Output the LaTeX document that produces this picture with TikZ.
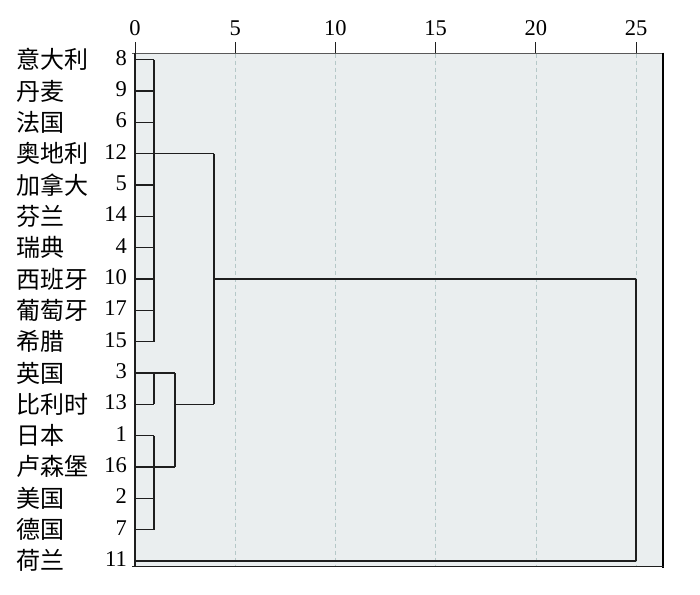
\documentclass[tikz,border=0pt]{standalone}
\usepackage{fontspec}
\setmainfont{Liberation Serif}
\newfontfamily\cjk{Noto Sans CJK SC}
\definecolor{plotbg}{HTML}{EAEEEF}
\definecolor{gridc}{HTML}{B5C8C8}
\definecolor{linec}{HTML}{1E1E1E}
\begin{document}
\begin{tikzpicture}[x=1pt,y=-1pt,
  lab/.style={anchor=base west,inner sep=0pt,font=\cjk\fontsize{24}{24}\selectfont},
  num/.style={anchor=base east,inner sep=0pt,font=\fontsize{22.5}{22.5}\selectfont},
  ticklab/.style={anchor=base,inner sep=0pt,font=\fontsize{22.5}{22.5}\selectfont},
  dend/.style={draw=linec,line width=1.1pt},
  gridl/.style={draw=gridc,line width=0.6pt,dash pattern=on 4pt off 3pt}]
\useasboundingbox (0,0) rectangle (700,594);
% plot area
\fill[plotbg] (135,53) rectangle (663,566.5);
\foreach \v in {1,...,5} \draw[gridl] ({135+100.2*\v},53.5) -- ({135+100.2*\v},566);
\draw[draw=gray!70!black,line width=0.7pt] (132,53.3) -- (663,53.3);
\draw[line width=2.8pt,draw=black] (663,52.5) -- (663,567.8);
\draw[line width=1.6pt,draw=linec] (132,566.5) -- (664,566.5);
\draw[line width=1.1pt,draw=linec] (135,53) -- (135,566.5);
% ticks and tick labels
\foreach \v/\t in {0/0,1/5,2/10,3/15,4/20,5/25}{
  \draw[line width=1pt,draw=linec] ({135+100.2*\v},42.5) -- ({135+100.2*\v},53.3);
  \node[ticklab] (t\t) at ({135+100.2*\v},36) {\t};
}
% rows
\foreach \name/\n [count=\i from 0] in {意大利/8,丹麦/9,法国/6,奥地利/12,加拿大/5,芬兰/14,瑞典/4,西班牙/10,葡萄牙/17,希腊/15,英国/3,比利时/13,日本/1,卢森堡/16,美国/2,德国/7,荷兰/11}{
  \pgfmathsetmacro\yy{59.7+31.33*\i}
  \node[lab] (c\i) at (16,\yy+9) {\name};
  \node[num] (n\i) at (127,\yy+5.6) {\n};
  \coordinate (r\i) at (135,\yy);
}
% dendrogram
\foreach \i in {0,...,9} \draw[dend] (r\i) -- ++(19,0);
\draw[dend] ([xshift=19pt]r0) -- ([xshift=19pt]r9);
\draw[dend] ([xshift=19pt]r3) -- ([xshift=79pt]r3);
\foreach \i in {10,...,15} \draw[dend] (r\i) -- ++(19,0);
\draw[dend] ([xshift=19pt]r10) -- ([xshift=19pt]r11);
\draw[dend] ([xshift=19pt]r12) -- ([xshift=19pt]r15);
\draw[dend] ([xshift=19pt]r10) -- ([xshift=40pt]r10);
\draw[dend] ([xshift=19pt]r13) -- ([xshift=40pt]r13);
\draw[dend] ([xshift=40pt]r10) -- ([xshift=40pt]r13);
\draw[dend] ([xshift=40pt]r11) -- ([xshift=79pt]r11);
\draw[dend] ([xshift=79pt]r3) -- ([xshift=79pt]r11);
\draw[dend] ([xshift=79pt]r7) -- ([xshift=501pt]r7);
\draw[dend] ([xshift=501pt]r7) -- ([xshift=501pt]r16);
\draw[dend] (r16) -- ([xshift=501pt]r16);
\end{tikzpicture}
\end{document}
